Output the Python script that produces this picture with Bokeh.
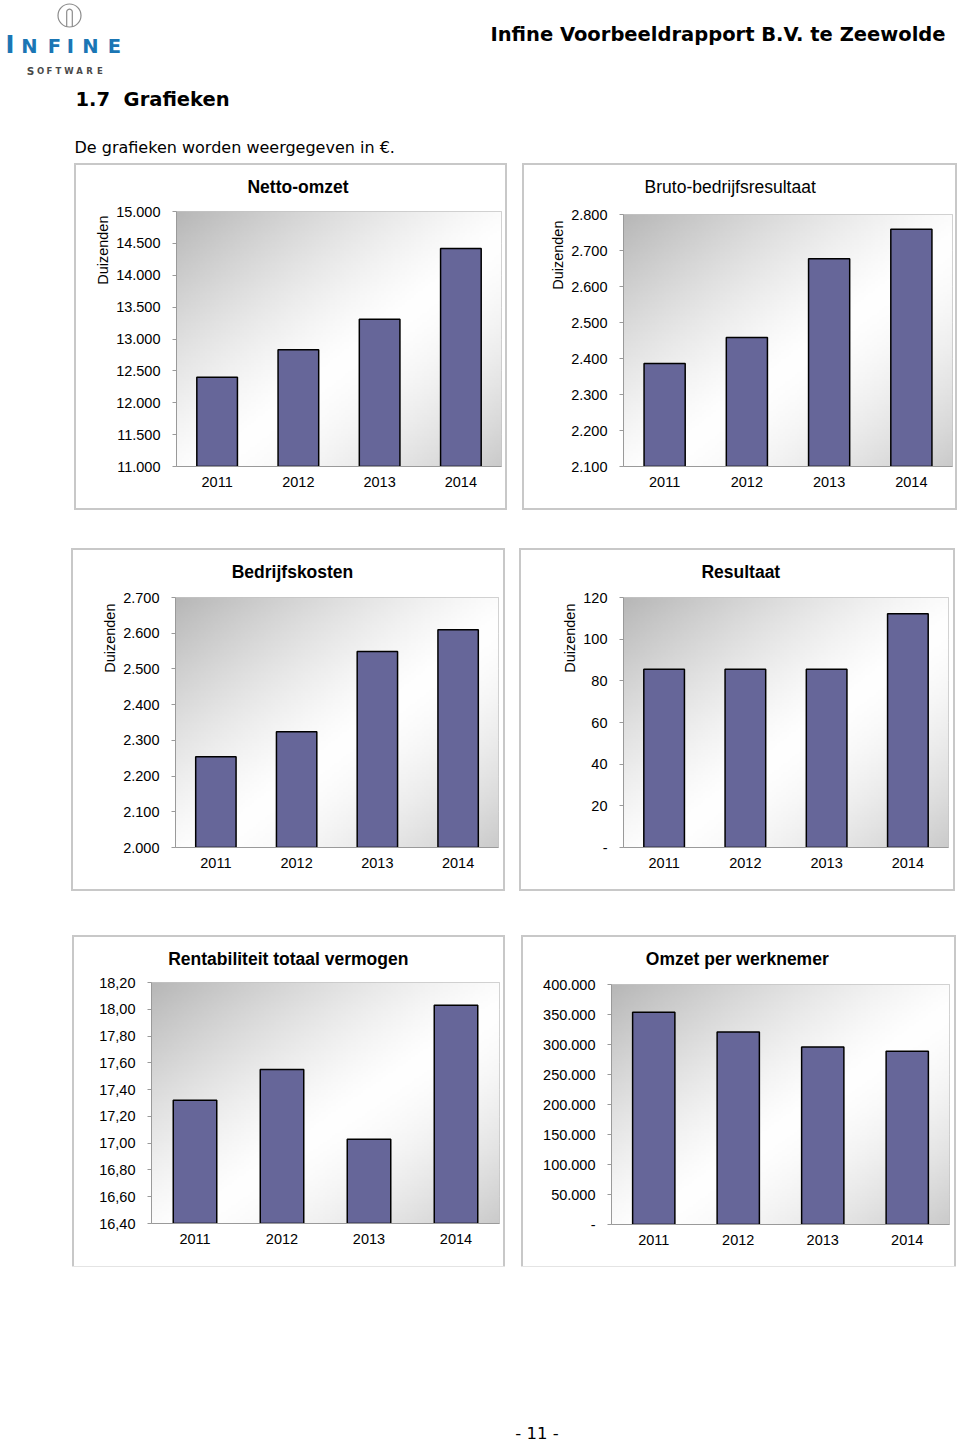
import numpy as np
from bokeh.plotting import figure
from bokeh.models import Range1d, FactorRange, FixedTicker, Title, Spacer
from bokeh.layouts import column, row
from bokeh.core.properties import value
from bokeh.embed import file_html
from bokeh.resources import INLINE

# ---------------- data ----------------
years = ["2011", "2012", "2013", "2014"]

netto_omzet = [12400, 12830, 13310, 14420]
netto_ticks = [11000, 11500, 12000, 12500, 13000, 13500, 14000, 14500, 15000]

bruto_resultaat = [2386, 2458, 2677, 2759]
bruto_ticks = [2100, 2200, 2300, 2400, 2500, 2600, 2700, 2800]

bedrijfskosten = [2254, 2324, 2549, 2610]
kosten_ticks = [2000, 2100, 2200, 2300, 2400, 2500, 2600, 2700]

resultaat = [85.6, 85.6, 85.6, 112.2]
resultaat_ticks = [0, 20, 40, 60, 80, 100, 120]

rentabiliteit = [17.32, 17.55, 17.03, 18.03]
rent_ticks = [16.4, 16.6, 16.8, 17.0, 17.2, 17.4, 17.6, 17.8, 18.0, 18.2]

omzet_werknemer = [353700, 321000, 296000, 288700]
omzet_ticks = [0, 50000, 100000, 150000, 200000, 250000, 300000, 350000, 400000]

BAR = "#666699"
FONT = "Liberation Sans"
PAGEFONT = "DejaVu Sans"
TOPPAD = 10
AXIS_GREY = "#9a9a9a"


def fmt_int(v):
    return "-" if v == 0 else f"{v:,.0f}".replace(",", ".")


def fmt_dec(v):
    return f"{v:.2f}".replace(".", ",")


def gradient(nx=140, ny=110):
    u = np.linspace(0, 1, nx)[None, :]
    v = np.linspace(0, 1, ny)[:, None]
    s = (u + (1 - v)) / 2.0
    a = np.clip(1 - s / 0.55, 0, 1)
    b = np.clip((s - 0.55) / 0.45, 0, 1)
    dark = 72 * a ** 1.3 + 52 * b ** 1.5
    g = np.clip(255 - dark, 0, 255).astype(np.uint32)
    img = (255 << 24) | (g << 16) | (g << 8) | g
    return img.astype(np.uint32)


def make_chart(w, h, ml, mr, mt, mb, title, bold, vals, ticks, fmt, duiz,
               t_x, t_y, d_off=4):
    th = mt - TOPPAD
    fw = w - ml - mr
    # title strip: its frame has the same width as the chart's frame
    tf = figure(width=w, height=th, x_range=Range1d(0, fw), y_range=Range1d(th, 0),
                output_backend="svg", toolbar_location=None,
                x_axis_type=None, y_axis_type=None,
                min_border_left=ml, min_border_right=mr,
                min_border_top=0, min_border_bottom=0,
                outline_line_color=None, background_fill_color="white",
                border_fill_color="white")
    tf.text(x=[t_x], y=[t_y], text=[title], text_align="center",
            text_baseline="middle", text_font=value(FONT),
            text_font_size="17.5px",
            text_font_style="bold" if bold else "normal", text_color="black")

    p = figure(width=w, height=h - th,
               x_range=FactorRange(factors=years),
               y_range=Range1d(ticks[0], ticks[-1]),
               output_backend="svg", toolbar_location=None,
               min_border_left=ml, min_border_right=mr,
               min_border_top=TOPPAD, min_border_bottom=mb,
               background_fill_color="white", border_fill_color="white",
               outline_line_color="#c4c4c4")

    if duiz:
        t = Title(text="Duizenden", align="right", offset=d_off, standoff=5,
                  text_font=FONT, text_font_size="14.5px",
                  text_font_style="normal", text_color="black")
        p.add_layout(t, "left")

    p.image_rgba(image=[gradient()], x=0, y=ticks[0], dw=len(years),
                 dh=ticks[-1] - ticks[0])
    p.vbar(x=years, top=vals, bottom=ticks[0], width=0.5,
           fill_color=BAR, line_color="black", line_width=1.5)

    p.xgrid.grid_line_color = None
    p.ygrid.grid_line_color = "#d9d9d9"
    p.ygrid.ticker = FixedTicker(ticks=ticks)

    ya = p.yaxis[0]
    ya.ticker = FixedTicker(ticks=ticks)
    ya.major_label_overrides = {t: fmt(t) for t in ticks}
    ya.major_label_text_font = FONT
    ya.major_label_text_font_size = "14.5px"
    ya.major_label_text_color = "black"
    ya.axis_line_color = AXIS_GREY
    ya.major_tick_line_color = AXIS_GREY
    ya.major_tick_out = 4
    ya.major_tick_in = 0
    ya.minor_tick_line_color = None
    ya.major_label_standoff = 12

    xa = p.xaxis[0]
    xa.major_label_text_font = FONT
    xa.major_label_text_font_size = "14.5px"
    xa.major_label_text_color = "black"
    xa.axis_line_color = AXIS_GREY
    xa.major_tick_line_color = None
    xa.major_tick_out = 0
    xa.major_tick_in = 0
    xa.major_label_standoff = 10

    return column(tf, p, styles={"outline": "2px solid #c8c8c8"})


c1 = make_chart(429, 343, 100, 4, 46, 42, "Netto-omzet", True, netto_omzet,
                netto_ticks, fmt_int, True, 121.5, 21.7)
c2 = make_chart(431, 343, 99, 3, 49, 42, "Bruto-bedrijfsresultaat", False,
                bruto_resultaat, bruto_ticks, fmt_int, True, 106.7, 21.7, 6)
c3 = make_chart(430, 339, 102, 5, 47, 42, "Bedrijfskosten", True,
                bedrijfskosten, kosten_ticks, fmt_int, True, 117, 21.3, 6)
c4 = make_chart(432, 339, 102, 5, 47, 42, "Resultaat", True, resultaat,
                resultaat_ticks, fmt_int, True, 117.3, 21.3, 6)
c5 = make_chart(429, 329, 77, 4, 45, 43, "Rentabiliteit totaal vermogen", True,
                rentabiliteit, rent_ticks, fmt_dec, False, 136.8, 21.6)
c6 = make_chart(431, 329, 88, 5, 47, 42, "Omzet per werknemer", True,
                omzet_werknemer, omzet_ticks, fmt_int, False, 125.8, 21)


# ---------------- page parts ----------------
def page_fig(h, y0, y1):
    f = figure(width=960, height=h, x_range=Range1d(0, 960),
               y_range=Range1d(y1, y0), output_backend="svg",
               toolbar_location=None, x_axis_type=None, y_axis_type=None,
               min_border=0, outline_line_color=None,
               background_fill_color="white", border_fill_color="white")
    return f


hdr = page_fig(165, 0, 165)
# logo
hdr.ellipse(x=69, y=15, width=23, height=23, fill_color=None,
            line_color="#8c8c8c", line_width=1.2)
arch_t = np.linspace(np.pi, 0, 20)
ax = [66.2] + list(69 + 2.8 * np.cos(arch_t)) + [71.8]
ay = [26.5] + list(11.5 - 2.8 * np.sin(arch_t)) + [26.5]
hdr.line(x=ax, y=ay, line_color="#8c8c8c", line_width=1.2)

blue = "#1b76b4"
hdr.text(x=[9.5], y=[44.5], text=["I"], text_align="center",
         text_baseline="middle", text_font=value(PAGEFONT),
         text_font_style="bold", text_font_size="24px", text_color=blue)
hdr.text(x=[29, 54, 70, 90, 114], y=[46.3] * 5, text=list("NFINE"),
         text_align="center", text_baseline="middle",
         text_font=value(PAGEFONT), text_font_style="bold",
         text_font_size="19.5px", text_color=blue)
hdr.text(x=[30], y=[70.4], text=["S"], text_align="center",
         text_baseline="middle", text_font=value(PAGEFONT),
         text_font_style="bold", text_font_size="10.5px", text_color="#4a4a4a")
hdr.text(x=[40, 49, 58, 68.5, 79, 89, 99.5], y=[70.8] * 7,
         text=list("OFTWARE"), text_align="center", text_baseline="middle",
         text_font=value(PAGEFONT), text_font_style="bold",
         text_font_size="8.5px", text_color="#4a4a4a")

hdr.text(x=[945], y=[33.5], text=["Infine Voorbeeldrapport B.V. te Zeewolde"],
         text_align="right", text_baseline="middle",
         text_font=value(PAGEFONT), text_font_style="bold",
         text_font_size="19.5px", text_color="black")
hdr.text(x=[75], y=[99], text=["1.7\u00a0\u00a0Grafieken"], text_align="left",
         text_baseline="middle", text_font=value(PAGEFONT),
         text_font_style="bold", text_font_size="19.5px", text_color="black")
hdr.text(x=[74], y=[147], text=["De grafieken worden weergegeven in €."],
         text_align="left", text_baseline="middle",
         text_font=value(PAGEFONT), text_font_size="16px", text_color="black")

ftr = page_fig(177, 1266, 1443)
ftr.text(x=[536.5], y=[1433], text=["- 11 -"], text_align="center",
         text_baseline="middle", text_font=value(PAGEFONT),
         text_font_size="16.5px", text_color="black")

layout = column(
    hdr,
    row(Spacer(width=76, height=343), c1, Spacer(width=19, height=343), c2),
    Spacer(width=960, height=42),
    row(Spacer(width=73, height=339), c3, Spacer(width=18, height=339), c4),
    Spacer(width=960, height=48),
    row(Spacer(width=74, height=329), c5, Spacer(width=20, height=329), c6),
    ftr,
)

open("out.html", "w").write(file_html(layout, INLINE))
